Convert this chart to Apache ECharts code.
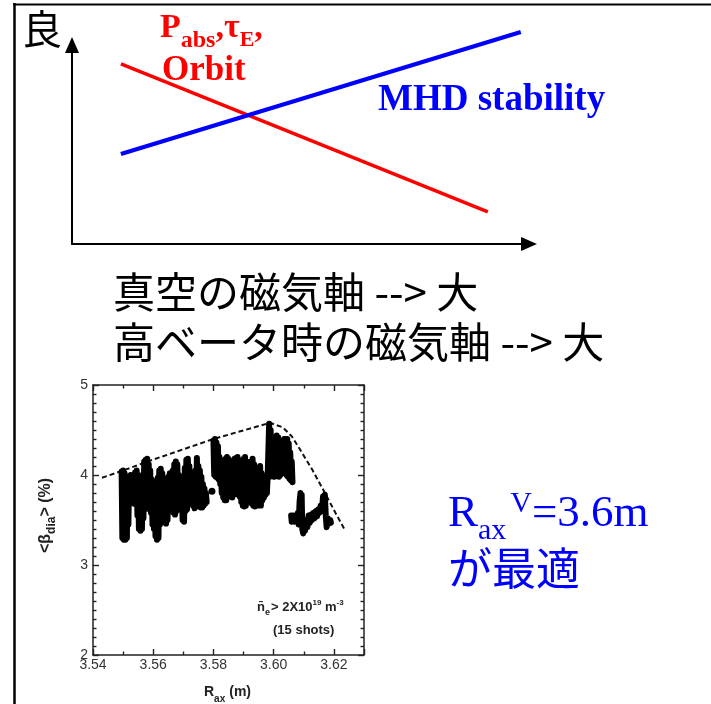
<!DOCTYPE html>
<html><head><meta charset="utf-8">
<script src="https://cdn.jsdelivr.net/npm/echarts@6.0.0/dist/echarts.min.js"></script>
<style>html,body{margin:0;padding:0;background:#fff}#c{width:711px;height:704px}</style>
</head><body><div id="c"></div>
<script>
// ---------- data ----------
const schemRed = [[1.07, 9.05], [9.10, 1.61]];
const schemBlue = [[1.07, 4.52], [9.82, 10.65]];
const xTickLabels = ['3.54', '3.56', '3.58', '3.60', '3.62'];
const yTickLabels = ['2', '3', '4', '5'];
const envelope = [[3.5430,3.97],[3.5500,4.05],[3.5590,4.16],[3.5800,4.40],[3.5988,4.58],[3.6030,4.53],[3.6060,4.43],[3.6090,4.27],[3.6128,4.06],[3.6172,3.79],[3.6205,3.58],[3.6238,3.38]];
const blobA = [[3.5495,4.04],[3.54975,3.30],[3.5500,4.05],[3.55025,3.28],[3.5505,4.02],[3.55075,3.28],[3.5510,3.98],[3.55125,3.30],[3.5515,3.96],[3.55175,3.45],[3.5520,3.98],[3.55225,3.72],[3.5525,4.00],[3.55275,3.70],[3.5530,3.95],[3.55325,3.72],[3.5535,3.98],[3.55375,3.68],[3.5540,4.03],[3.55425,3.70],[3.5545,4.05],[3.55475,3.55],[3.5550,4.00],[3.55525,3.40],[3.5555,3.90],[3.55575,3.38],[3.5560,3.85],[3.55625,3.40],[3.5565,4.00],[3.55675,3.52],[3.5570,4.15],[3.55725,3.62],[3.5575,4.17],[3.55775,3.65],[3.5580,4.18],[3.55825,3.64],[3.5585,4.12],[3.55875,3.62],[3.5590,4.05],[3.55925,3.58],[3.5595,3.95],[3.55975,3.45],[3.5600,3.92],[3.56025,3.40],[3.5605,3.90],[3.56075,3.32],[3.5610,3.93],[3.56125,3.28],[3.5615,3.97],[3.56175,3.30],[3.5620,4.05],[3.56225,3.45],[3.5625,4.07],[3.56275,3.50],[3.5630,4.02],[3.56325,3.48],[3.5635,3.92],[3.56375,3.50],[3.5640,3.90],[3.56425,3.46],[3.5645,3.95],[3.56475,3.50],[3.5650,3.98],[3.56525,3.62],[3.5655,4.02],[3.56575,3.66],[3.5660,3.98],[3.56625,3.62],[3.5665,4.05],[3.56675,3.58],[3.5670,4.12],[3.56725,3.56],[3.5675,4.15],[3.56775,3.60],[3.5680,4.12],[3.56825,3.70],[3.5685,4.00],[3.56875,3.66],[3.5690,3.95],[3.56925,3.62],[3.5695,3.92],[3.56975,3.50],[3.5700,3.98],[3.57025,3.48],[3.5705,4.08],[3.57075,3.60],[3.5710,4.17],[3.57125,3.62],[3.5715,4.18],[3.57175,3.70],[3.5720,4.10],[3.57225,3.72],[3.5725,3.95],[3.57275,3.75],[3.5730,3.92],[3.57325,3.66],[3.5735,3.90],[3.57375,3.63],[3.5740,4.05],[3.57425,3.65],[3.5745,4.19],[3.57475,3.66],[3.5750,4.10],[3.57525,3.65],[3.5755,4.05],[3.57575,3.64],[3.5760,3.98],[3.57625,3.64],[3.5765,3.90],[3.57675,3.66],[3.5770,3.85],[3.57725,3.68],[3.5775,3.80],[3.57775,3.70]];
const blobB = [[3.5800,4.38],[3.58025,4.00],[3.5805,4.40],[3.58075,3.98],[3.5810,4.36],[3.58125,3.97],[3.5815,4.32],[3.58175,3.95],[3.5820,4.20],[3.58225,3.90],[3.5825,4.15],[3.58275,3.80],[3.5830,4.10],[3.58325,3.75],[3.5835,4.12],[3.58375,3.72],[3.5840,4.18],[3.58425,3.72],[3.5845,4.20],[3.58475,3.76],[3.5850,4.18],[3.58525,3.80],[3.5855,4.15],[3.58575,3.78],[3.5860,4.12],[3.58625,3.75],[3.5865,4.15],[3.58675,3.78],[3.5870,4.18],[3.58725,3.82],[3.5875,4.19],[3.58775,3.80],[3.5880,4.20],[3.58825,3.78],[3.5885,4.15],[3.58875,3.76],[3.5890,4.10],[3.58925,3.70],[3.5895,4.15],[3.58975,3.66],[3.5900,4.18],[3.59025,3.65],[3.5905,4.20],[3.59075,3.66],[3.5910,4.15],[3.59125,3.70],[3.5915,4.08],[3.59175,3.72],[3.5920,4.10],[3.59225,3.70],[3.5925,4.15],[3.59275,3.68],[3.5930,4.18],[3.59325,3.66],[3.5935,4.12],[3.59375,3.65],[3.5940,4.05],[3.59425,3.66],[3.5945,4.00],[3.59475,3.70],[3.5950,4.05],[3.59525,3.66],[3.5955,4.10],[3.59575,3.66],[3.5960,4.02],[3.59625,3.72],[3.5965,3.98],[3.59675,3.75],[3.5970,3.95],[3.59725,3.78],[3.5975,3.96],[3.59775,3.80],[3.5980,3.98],[3.5985,4.57],[3.59875,3.98],[3.5990,4.50],[3.59925,4.00],[3.5995,4.20],[3.59975,4.00],[3.6000,4.30],[3.60025,3.98],[3.6005,4.40],[3.60075,4.02],[3.6010,4.44],[3.60125,4.00],[3.6015,4.42],[3.60175,3.98],[3.6020,4.35],[3.60225,4.00],[3.6025,4.30],[3.60275,4.02],[3.6030,4.38],[3.60325,4.05],[3.6035,4.40],[3.60375,4.05],[3.6040,4.37],[3.60425,4.00],[3.6045,4.40],[3.60475,3.98],[3.6050,4.35],[3.60525,3.96],[3.6055,4.25],[3.60575,3.94],[3.6060,4.15],[3.60625,3.92]];
const blobC = [[3.6058,3.55],[3.6060,3.48],[3.6064,3.55],[3.6068,3.48],[3.6072,3.55],[3.6076,3.48],[3.6080,3.58],[3.6083,3.45],[3.6086,3.70],[3.6089,3.80],[3.6091,3.55],[3.6093,3.78],[3.6095,3.40],[3.6098,3.35],[3.6101,3.45],[3.6104,3.38],[3.6108,3.50],[3.6112,3.42],[3.6116,3.55],[3.6120,3.47],[3.6124,3.56],[3.6128,3.50],[3.6132,3.58],[3.6136,3.52],[3.6140,3.60],[3.6144,3.54],[3.6148,3.62],[3.6152,3.58],[3.6156,3.66],[3.6160,3.60],[3.6164,3.76],[3.6167,3.62],[3.6170,3.78],[3.6173,3.55],[3.6176,3.42],[3.6180,3.52],[3.6184,3.46],[3.6188,3.50],[3.6190,3.47]];
const isolated = [[3.5795, 3.82]];

// ---------- text layout helper ----------
const mctx = document.createElement('canvas').getContext('2d');
function mid(font, s, serif){
  mctx.font = font; mctx.textBaseline = 'alphabetic';
  const m = mctx.measureText('Hx');
  let off = (m.fontBoundingBoxAscent != null) ? (m.fontBoundingBoxAscent - m.fontBoundingBoxDescent) / 2 : 0.34 * s;
  if (serif) off -= 0.14 * s;
  return off;
}
function runs(x0, parts){
  let x = x0; const out = [];
  for (const p of parts){
    const font = (p.w || 'normal') + ' ' + p.s + 'px ' + p.f;
    const y = p.b - mid(font, p.s, p.f === SERIF);
    out.push({type:'text', x: x, y: y, z: 100,
      style:{text:p.t, font:font, fill:p.c, align:'left', verticalAlign:'middle', textAlign:'left', textVerticalAlign:'middle'}});
    mctx.font = font;
    x += mctx.measureText(p.t).width + (p.gap || 0);
  }
  return out;
}
function cjk(x, yc, t, s, c){
  const font = 'normal ' + s + 'px "Noto Sans CJK JP"';
  return {type:'text', x:x, y:yc, z:100, style:{text:t, font:font, fill:c, align:'left', verticalAlign:'middle', textAlign:'left', textVerticalAlign:'middle'}};
}
const SERIF = '"Liberation Serif", "Times New Roman", serif';
const SANS = '"Liberation Sans", Arial, sans-serif';
const RED = '#ff0000', BLUE = '#0000ff';

const graphics = [];
// slide frame
graphics.push({type:'line', shape:{x1:14.5, y1:3, x2:14.5, y2:704}, style:{stroke:'#000', lineWidth:2.5}});
graphics.push({type:'line', shape:{x1:13, y1:4.5, x2:711, y2:4.5}, style:{stroke:'#000', lineWidth:2}});
// schematic texts
graphics.push(cjk(22, 29, '良', 40, '#000'));
graphics.push(...runs(160, [
  {t:'P', s:34, w:'bold', f:SERIF, b:35, c:RED},
  {t:'abs', s:24, w:'bold', f:SERIF, b:45, c:RED},
  {t:',τ', s:34, w:'bold', f:SERIF, b:35, c:RED},
  {t:'E', s:22, w:'bold', f:SERIF, b:45, c:RED},
  {t:',', s:34, w:'bold', f:SERIF, b:35, c:RED}
]));
graphics.push(...runs(162, [{t:'Orbit', s:35, w:'bold', f:SERIF, b:78, c:RED}]));
graphics.push(...runs(378, [{t:'MHD stability', s:37, w:'bold', f:SERIF, b:108, c:BLUE}]));
graphics.push(cjk(113, 292, '真空の磁気軸 --> 大', 42, '#000'));
graphics.push(cjk(113, 342, '高ベータ時の磁気軸 --> 大', 42, '#000'));
graphics.push(...runs(448, [
  {t:'R', s:45, f:SERIF, b:523, c:BLUE},
  {t:'ax', s:30, f:SERIF, b:537, c:BLUE, gap:4},
  {t:'V', s:30, f:SERIF, b:510, c:BLUE},
  {t:'=3.6m', s:45, f:SERIF, b:523, c:BLUE}
]));
graphics.push(cjk(448, 568, 'が最適', 44, BLUE));
// plot inner texts
const G = '#222';
graphics.push(...runs(257, [
  {t:'n\u0304', s:13, w:'bold', f:SANS, b:612, c:G},
  {t:'e', s:9, w:'bold', f:SANS, b:616, c:G, gap:1},
  {t:'> 2X10', s:13, w:'bold', f:SANS, b:612, c:G},
  {t:'19', s:8, w:'bold', f:SANS, b:605, c:G},
  {t:' m', s:13, w:'bold', f:SANS, b:612, c:G},
  {t:'-3', s:8, w:'bold', f:SANS, b:605, c:G}
]));
graphics.push(...runs(273, [{t:'(15 shots)', s:13, w:'bold', f:SANS, b:635, c:G}]));
// x axis name
graphics.push(...runs(204, [
  {t:'R', s:14, w:'bold', f:SANS, b:697, c:G},
  {t:'ax', s:10, w:'bold', f:SANS, b:703, c:G, gap:4},
  {t:'(m)', s:14, w:'bold', f:SANS, b:697, c:G}
]));
// y axis name (rotated)
graphics.push({type:'group', x:51, y:553, rotation:Math.PI/2, children: runs(0, [
  {t:'<β', s:16, w:'bold', f:SANS, b:0, c:G},
  {t:'dia', s:12, w:'bold', f:SANS, b:5, c:G},
  {t:'> (%)', s:16, w:'bold', f:SANS, b:0, c:G}
])});

const tickLine = {color:'#222', width:1.4};
const lab = {fontSize:14, color:'#333', fontFamily:'Liberation Sans'};
const option = {
  animation:false,
  backgroundColor:'#fff',
  grid:[
    {left:72, top:45, width:457, height:199},
    {left:93, top:385, width:271, height:270}
  ],
  xAxis:[
    {gridIndex:0, type:'value', min:0, max:10, axisLine:{onZero:false, lineStyle:{color:'#000', width:2}, symbol:['none','triangle'], symbolSize:[14,16]}, axisTick:{show:false}, axisLabel:{show:false}, splitLine:{show:false}},
    {gridIndex:1, type:'value', position:'bottom', min:3.54, max:3.63, interval:0.02,
      axisLine:{onZero:false, lineStyle:{color:'#222', width:1.5}},
      axisTick:{inside:true, length:6, lineStyle:tickLine},
      minorTick:{show:true, splitNumber:2, length:3.5, lineStyle:tickLine},
      axisLabel:Object.assign({margin:3, showMaxLabel:false, formatter:(v)=>{const s=v.toFixed(2); return xTickLabels.includes(s)?s:'';}}, lab),
      splitLine:{show:false}},
    {gridIndex:1, type:'value', position:'top', min:3.54, max:3.63, interval:0.02,
      axisLine:{onZero:false, lineStyle:{color:'#222', width:1.5}},
      axisTick:{inside:true, length:6, lineStyle:tickLine},
      minorTick:{show:true, splitNumber:2, length:3.5, lineStyle:tickLine},
      axisLabel:{show:false}, splitLine:{show:false}}
  ],
  yAxis:[
    {gridIndex:0, type:'value', min:0, max:100, axisLine:{show:true, onZero:false, lineStyle:{color:'#000', width:2}, symbol:['none','triangle'], symbolSize:[14,16]}, axisTick:{show:false}, axisLabel:{show:false}, splitLine:{show:false}},
    {gridIndex:1, type:'value', position:'left', min:2, max:5, interval:1,
      axisLine:{show:true, onZero:false, lineStyle:{color:'#222', width:1.5}},
      axisTick:{show:true, inside:true, length:6, lineStyle:tickLine},
      minorTick:{show:true, splitNumber:10, length:3.5, lineStyle:tickLine},
      axisLabel:Object.assign({margin:5, formatter:(v)=>{const s=String(v); return yTickLabels.includes(s)?s:'';}}, lab),
      splitLine:{show:false}},
    {gridIndex:1, type:'value', position:'right', min:2, max:5, interval:1,
      axisLine:{show:true, onZero:false, lineStyle:{color:'#222', width:1.5}},
      axisTick:{show:true, inside:true, length:6, lineStyle:tickLine},
      minorTick:{show:true, splitNumber:10, length:3.5, lineStyle:tickLine},
      axisLabel:{show:false}, splitLine:{show:false}}
  ],
  series:[
    {type:'line', xAxisIndex:0, yAxisIndex:0, data:schemRed.map(p=>[p[0], p[1]*10]), symbol:'none', clip:false, lineStyle:{color:RED, width:3.5}},
    {type:'line', xAxisIndex:0, yAxisIndex:0, data:schemBlue.map(p=>[p[0], p[1]*10]), symbol:'none', clip:false, lineStyle:{color:BLUE, width:4.2}},
    {type:'line', xAxisIndex:1, yAxisIndex:1, data:envelope, symbol:'none', lineStyle:{color:'#111', width:2, type:[5,3]}},
    {type:'line', xAxisIndex:1, yAxisIndex:1, data:blobA, symbol:'none', lineStyle:{color:'#000', width:6, cap:'round', join:'round'}},
    {type:'line', xAxisIndex:1, yAxisIndex:1, data:blobB, symbol:'none', lineStyle:{color:'#000', width:6, cap:'round', join:'round'}},
    {type:'line', xAxisIndex:1, yAxisIndex:1, data:blobC, symbol:'none', lineStyle:{color:'#000', width:6, cap:'round', join:'round'}},
    {type:'scatter', xAxisIndex:1, yAxisIndex:1, data:isolated, symbolSize:7, itemStyle:{color:'#000', opacity:1}}
  ],
  graphic: graphics
};
const chart = echarts.init(document.getElementById('c'), null, {renderer:'canvas'});
chart.setOption(option);
</script>
</body></html>
